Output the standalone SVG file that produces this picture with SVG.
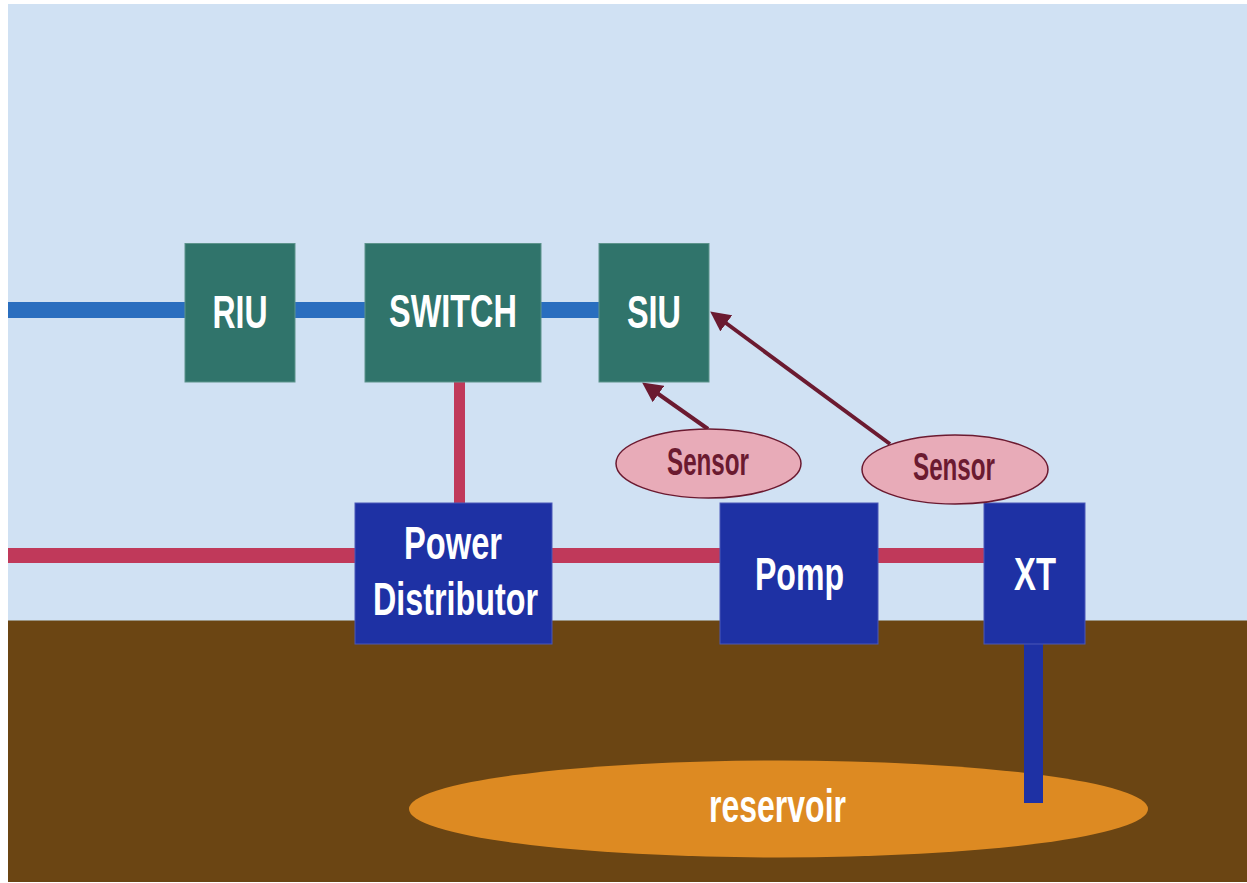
<svg xmlns="http://www.w3.org/2000/svg" width="1247" height="883" viewBox="0 0 1247 883">
  <defs>
    <style>
      .lbl { font-family: "Liberation Sans", Arial, sans-serif; font-weight: bold; font-size: 47px; fill: #ffffff; text-anchor: middle; }
      .sen { font-family: "Liberation Sans", Arial, sans-serif; font-weight: bold; font-size: 38px; fill: #6b1a30; text-anchor: middle; }
      .green { fill: #30746b; stroke: #5d948c; stroke-width: 1; }
      .dblue { fill: #1e31a4; stroke: #4a58b8; stroke-width: 1; }
      .sensor { fill: #e8abb8; stroke: #6b1a30; stroke-width: 1.5; }
      .arrow { stroke: #6b1a30; stroke-width: 4; fill: none; }
    </style>
    <marker id="ah" markerWidth="5" markerHeight="5" refX="3.5" refY="2.5" orient="auto" markerUnits="strokeWidth">
      <path d="M0,0 L5,2.5 L0,5 Z" fill="#6b1a30"/>
    </marker>
  </defs>

  <rect x="0" y="0" width="1247" height="883" fill="#ffffff"/>
  <rect x="8" y="4" width="1239" height="617" fill="#d0e1f3"/>
  <rect x="8" y="620" width="1239" height="262" fill="#6b4513"/>
  <line x1="8" y1="620.5" x2="1247" y2="620.5" stroke="#9a9484" stroke-width="1"/>

  <g id="reservoir">
    <ellipse cx="778.5" cy="809" rx="369.5" ry="48.5" fill="#dd8a22"/>
    <text class="lbl" x="777.5" y="822" textLength="137" lengthAdjust="spacingAndGlyphs">reservoir</text>
  </g>

  <g id="connectors">
    <rect x="8" y="302" width="591" height="16" fill="#2a6ebf"/>
    <rect x="8" y="548" width="976" height="15" fill="#c0395a"/>
    <rect x="454" y="382" width="11" height="121" fill="#c0395a"/>
    <rect x="1024" y="644" width="19" height="159" fill="#1e31a4"/>
    <line class="arrow" x1="708" y1="429" x2="647" y2="386" marker-end="url(#ah)"/>
    <line class="arrow" x1="890" y1="444" x2="715" y2="315" marker-end="url(#ah)"/>
  </g>

  <g id="riu">
    <rect class="green" x="185" y="243.5" width="110" height="138.5"/>
    <text class="lbl" x="240" y="328" textLength="55" lengthAdjust="spacingAndGlyphs">RIU</text>
  </g>
  <g id="switch">
    <rect class="green" x="365" y="243.5" width="176" height="138.5"/>
    <text class="lbl" x="453" y="327" textLength="128" lengthAdjust="spacingAndGlyphs">SWITCH</text>
  </g>
  <g id="siu">
    <rect class="green" x="599" y="243.5" width="110" height="138.5"/>
    <text class="lbl" x="654" y="328" textLength="54" lengthAdjust="spacingAndGlyphs">SIU</text>
  </g>

  <g id="power-distributor">
    <rect class="dblue" x="355" y="503" width="197" height="141"/>
    <text class="lbl" x="453" y="559" textLength="98" lengthAdjust="spacingAndGlyphs">Power</text>
    <text class="lbl" x="455.5" y="615" textLength="165" lengthAdjust="spacingAndGlyphs">Distributor</text>
  </g>
  <g id="pomp">
    <rect class="dblue" x="720" y="503" width="158" height="141"/>
    <text class="lbl" x="799.5" y="590" textLength="89" lengthAdjust="spacingAndGlyphs">Pomp</text>
  </g>
  <g id="xt">
    <rect class="dblue" x="984" y="503" width="101" height="141"/>
    <text class="lbl" x="1035" y="590" textLength="42" lengthAdjust="spacingAndGlyphs">XT</text>
  </g>

  <g id="sensor1">
    <ellipse class="sensor" cx="708.5" cy="463.5" rx="92.5" ry="34.5"/>
    <text class="sen" x="708" y="475" textLength="82" lengthAdjust="spacingAndGlyphs">Sensor</text>
  </g>
  <g id="sensor2">
    <ellipse class="sensor" cx="955" cy="469.5" rx="93" ry="34.5"/>
    <text class="sen" x="954" y="480" textLength="82" lengthAdjust="spacingAndGlyphs">Sensor</text>
  </g>
</svg>
